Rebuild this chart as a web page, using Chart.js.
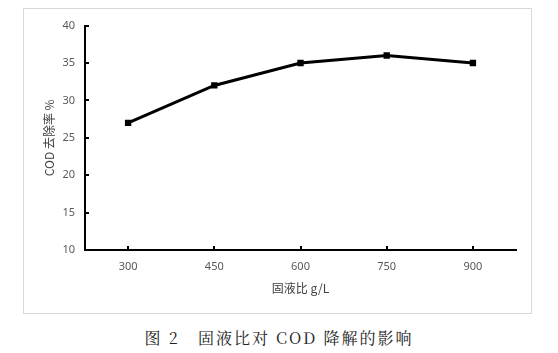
<!DOCTYPE html>
<html>
<head>
<meta charset="utf-8">
<script src="https://cdn.jsdelivr.net/npm/chart.js@4"></script>
<style>
  body { margin: 0; background: #fff; width: 558px; height: 353px; position: relative; overflow: hidden; }
  #frame { position: absolute; left: 23px; top: 8px; width: 507px; height: 304px; border: 1px solid #d9d9d9; }
  #caption { position: absolute; left: 0; width: 558px; top: 326px; text-align: center;
    font-family: "Noto Serif CJK SC", "Noto Sans CJK SC", serif; font-size: 16px; color: #222; letter-spacing: 2px; }
</style>
</head>
<body>
<div id="frame"><canvas id="mainChart" width="507" height="304"></canvas></div>
<div id="caption">图 2&nbsp;&nbsp;&nbsp;固液比对 COD 降解的影响</div>
<script>
const ratios = ['300', '450', '600', '750', '900']
const codRemoval = [27, 32, 35, 36, 35]
const yTicks = [10, 15, 20, 25, 30, 35, 40]

// short ticks drawn inside the axes, like the original
const innerTicks = {
    id: 'innerTicks',
    afterDraw(chart) {
        const ctx = chart.ctx
        const x = chart.scales.x
        const y = chart.scales.y
        ctx.save()
        ctx.strokeStyle = '#000'
        ctx.lineWidth = 2
        ctx.beginPath()
        yTicks.forEach(v => {
            let py = Math.round(y.getPixelForValue(v))
            ctx.moveTo(x.left, py)
            ctx.lineTo(x.left + 4, py)
        })
        ratios.forEach((c, i) => {
            let px = Math.round(x.getPixelForValue(i))
            ctx.moveTo(px, y.bottom)
            ctx.lineTo(px, y.bottom - 4)
        })
        ctx.stroke()
        ctx.restore()
    }
}

const tickFont = { family: '"Noto Sans", sans-serif', size: 11 }

new Chart(document.getElementById('mainChart'), {
    type: 'line',
    data: {
        labels: ratios,
        datasets: [{
            data: codRemoval,
            borderColor: '#000',
            backgroundColor: '#000',
            borderWidth: 3,
            tension: 0,
            pointStyle: 'rect',
            pointRadius: 4.5,
            pointBorderWidth: 0
        }]
    },
    options: {
        responsive: false,
        animation: false,
        layout: { padding: { top: 15, right: 15, left: 0, bottom: 0 } },
        plugins: { legend: { display: false }, tooltip: { enabled: false } },
        scales: {
            x: {
                type: 'category',
                offset: true,
                grid: { display: false, drawTicks: false },
                border: { display: true, color: '#000', width: 2 },
                ticks: { color: '#595959', font: tickFont, padding: 10, maxRotation: 0 },
                title: {
                    display: true,
                    text: '固液比 g/L',
                    color: '#404040',
                    font: { family: '"Noto Sans CJK SC", sans-serif', size: 12 },
                    padding: { top: 0, bottom: 17 }
                },
                afterFit(scale) { scale.height = 63 }
            },
            y: {
                min: 10,
                max: 40,
                afterBuildTicks(scale) { scale.ticks = yTicks.map(v => ({ value: v })) },
                grid: { display: false, drawTicks: false },
                border: { display: true, color: '#000', width: 2 },
                ticks: { color: '#595959', font: tickFont, padding: 10 },
                title: {
                    display: true,
                    text: 'COD 去除率 %',
                    color: '#404040',
                    font: { family: '"Noto Sans CJK SC", sans-serif', size: 12 },
                    padding: { top: 18, bottom: 0 }
                },
                afterFit(scale) { scale.width = 61 }
            }
        }
    },
    plugins: [innerTicks]
})
</script>
</body>
</html>
